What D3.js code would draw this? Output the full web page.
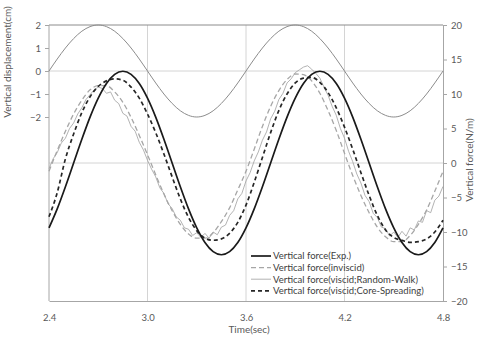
<!DOCTYPE html>
<html>
<head>
<meta charset="utf-8">
<script src="https://cdn.jsdelivr.net/npm/d3@7"></script>
<style>
  body { margin: 0; background: #fff; }
  text { font-family: Lato, "Open Sans", sans-serif; }
</style>
</head>
<body>
<script>
var width = 477, height = 338;

// time axis
var t0 = 2.4, dtSmooth = 0.05, dtNoisy = 0.025;
var xTicks = [2.4, 3.0, 3.6, 4.2, 4.8];
var leftTicks = [2, 1, 0, -1, -2];
var rightTicks = [20, 15, 10, 5, 0, -5, -10, -15, -20];

// vertical displacement (cm), every 0.05 s
var displacement = [0, 0.52, 1.0, 1.41, 1.73, 1.93, 2.0, 1.93, 1.73, 1.41, 1.0, 0.52, 0,
    -0.52, -1.0, -1.41, -1.73, -1.93, -2.0, -1.93, -1.73, -1.41, -1.0, -0.52, 0,
    0.52, 1.0, 1.41, 1.73, 1.93, 2.0, 1.93, 1.73, 1.41, 1.0, 0.52, 0,
    -0.52, -1.0, -1.41, -1.73, -1.93, -2.0, -1.93, -1.73, -1.41, -1.0, -0.52, 0];

// vertical force (N/m), every 0.05 s
var forceExp = [-9.4, -6.65, -3.44, 0, 3.44, 6.65, 9.4, 11.52, 12.85, 13.3, 12.85, 11.52, 9.4,
    6.65, 3.44, 0, -3.44, -6.65, -9.4, -11.52, -12.85, -13.3, -12.85, -11.52, -9.4,
    -6.65, -3.44, 0, 3.44, 6.65, 9.4, 11.52, 12.85, 13.3, 12.85, 11.52, 9.4,
    6.65, 3.44, 0, -3.44, -6.65, -9.4, -11.52, -12.85, -13.3, -12.85, -11.52, -9.4];

var forceInviscid = [-1.2, 1.8, 4.6, 7.1, 9.1, 10.6, 11.2, 11.2, 10.3, 8.8, 6.6, 4.0, 1.2,
    -1.7, -4.5, -6.9, -8.9, -10.3, -10.9, -10.9, -10.1, -8.5, -6.5, -3.9, -1.2,
    2.0, 5.3, 8.2, 10.5, 12.1, 12.9, 12.8, 11.9, 10.1, 7.6, 4.7, 1.4,
    -1.8, -4.7, -7.2, -9.3, -10.7, -11.4, -11.4, -10.5, -8.9, -6.8, -4.1, -1.2];

var forceCore = [-7.8, -4.3, 0.6, 4.2, 7.3, 9.6, 11.1, 11.9, 12.2, 12.0, 11.0, 9.4, 7.1,
    4.4, 1.3, -2.0, -5.2, -7.9, -9.8, -10.9, -11.2, -11.0, -10.2, -8.6, -6.1,
    -2.8, 0.8, 4.4, 7.6, 10.0, 11.6, 12.3, 12.4, 11.7, 10.2, 8.0, 5.2,
    2.0, -1.4, -4.7, -7.6, -9.7, -10.8, -11.2, -11.5, -11.4, -11.0, -10.0, -8.3];

// random-walk result is noisy, every 0.025 s
var forceRandom = [-0.8, 0.6, 1.5, 2.9, 3.6, 5.0, 5.8, 7.1, 8.0, 9.2, 9.9, 10.6, 11.0, 10.8,
    10.1, 10.3, 9.1, 8.6, 7.2, 6.8, 5.3, 4.6, 3.0, 1.9, 0.4, -0.9, -2.0, -3.6, -4.4, -5.9,
    -6.6, -7.8, -8.3, -9.4, -9.6, -10.5, -10.1, -10.8, -10.2, -10.9, -10.0, -10.4, -9.3,
    -9.0, -7.6, -6.9, -5.2, -4.4, -2.6, -1.4, 0.3, 1.6, 3.3, 4.5, 6.4, 7.5, 9.2, 10.1,
    11.6, 12.2, 13.1, 13.5, 13.9, 14.1, 13.6, 13.0, 12.3, 11.0, 9.8, 8.2, 6.9, 5.0, 3.6,
    1.7, 0.2, -1.6, -2.9, -4.7, -5.6, -7.3, -7.9, -9.3, -9.5, -10.6, -10.0, -10.8, -9.9,
    -10.6, -9.4, -9.7, -8.4, -8.6, -6.9, -7.2, -5.4, -4.8, -3.4];

var legendLabels = ['Vertical force(Exp.)', 'Vertical force(inviscid)',
    'Vertical force(viscid;Random-Walk)', 'Vertical force(viscid;Core-Spreading)'];

var plotLeft = 49, plotRight = 443, plotTop = 25, plotBottom = 301;

var x = d3.scaleLinear().domain([2.4, 4.8]).range([plotLeft, plotRight]);
var yL = d3.scaleLinear().domain([-10, 2]).range([plotBottom, plotTop]);
var yR = d3.scaleLinear().domain([-20, 20]).range([plotBottom, plotTop]);

var svg = d3.select('body').append('svg')
    .attr('width', width)
    .attr('height', height);

// grid
var grid = svg.append('g');
grid.selectAll('line.vg')
    .data(xTicks.slice(1, -1))
    .enter().append('line')
    .attr('x1', d => x(d)).attr('x2', d => x(d))
    .attr('y1', plotTop).attr('y2', plotBottom)
    .attr('stroke', '#d4d4d4').attr('stroke-width', 1);
grid.append('line')
    .attr('x1', plotLeft).attr('x2', plotRight)
    .attr('y1', yL(0)).attr('y2', yL(0))
    .attr('stroke', '#d4d4d4');
grid.append('line')
    .attr('x1', plotLeft).attr('x2', plotRight)
    .attr('y1', yR(0)).attr('y2', yR(0))
    .attr('stroke', '#d4d4d4');
grid.append('line')
    .attr('x1', plotLeft).attr('x2', plotRight)
    .attr('y1', plotTop).attr('y2', plotTop)
    .attr('stroke', '#8c8c8c');

// axes
var axL = svg.append('g')
    .attr('transform', 'translate(' + plotLeft + ',0)')
    .call(d3.axisLeft(yL).tickValues(leftTicks).tickSize(4).tickPadding(4).tickFormat(d3.format('d')));
axL.select('.domain').attr('d', 'M0,' + plotTop + 'V' + plotBottom);

var axR = svg.append('g')
    .attr('transform', 'translate(' + plotRight + ',0)')
    .call(d3.axisRight(yR).tickValues(rightTicks).tickSize(4).tickPadding(4).tickFormat(d3.format('d')));

var axB = svg.append('g')
    .attr('transform', 'translate(0,' + plotBottom + ')')
    .call(d3.axisBottom(x).tickValues(xTicks).tickSize(0).tickPadding(13).tickFormat(d3.format('.1f')));

svg.selectAll('.domain').attr('stroke', '#a6a6a6');
svg.selectAll('.tick line').attr('stroke', '#a6a6a6');
svg.selectAll('.tick text')
    .attr('fill', '#595959')
    .style('font-family', 'Lato, sans-serif')
    .style('font-size', '9.5px');

// axis titles
svg.append('text')
    .attr('transform', 'translate(11,62) rotate(-90)')
    .attr('text-anchor', 'middle')
    .attr('fill', '#595959')
    .style('font-size', '10px')
    .text('Vertical displacement(cm)');
svg.append('text')
    .attr('transform', 'translate(473,160) rotate(-90)')
    .attr('text-anchor', 'middle')
    .attr('fill', '#595959')
    .style('font-size', '10px')
    .text('Vertical force(N/m)');
svg.append('text')
    .attr('x', 249).attr('y', 333)
    .attr('text-anchor', 'middle')
    .attr('fill', '#595959')
    .style('font-size', '10px')
    .text('Time(sec)');

// series
function pts(arr, dt) {
    return arr.map((v, i) => [t0 + i * dt, v]);
}
var lineL = d3.line().x(d => x(d[0])).y(d => yL(d[1])).curve(d3.curveMonotoneX);
var lineR = d3.line().x(d => x(d[0])).y(d => yR(d[1])).curve(d3.curveMonotoneX);
var lineRaw = d3.line().x(d => x(d[0])).y(d => yR(d[1]));

var plot = svg.append('g');
plot.append('path')
    .attr('d', lineL(pts(displacement, dtSmooth)))
    .attr('fill', 'none').attr('stroke', '#8c8c8c').attr('stroke-width', 1);

var styles = [
    {data: pts(forceRandom, dtNoisy), gen: lineRaw, stroke: '#a0a0a0', w: 0.8, dash: null},
    {data: pts(forceInviscid, dtSmooth), gen: lineR, stroke: '#a6a6a6', w: 1.3, dash: '5,3'},
    {data: pts(forceCore, dtSmooth), gen: lineR, stroke: '#262626', w: 1.7, dash: '4,3'},
    {data: pts(forceExp, dtSmooth), gen: lineR, stroke: '#1a1a1a', w: 1.7, dash: null}
];
styles.forEach(function(s) {
    plot.append('path')
        .attr('d', s.gen(s.data))
        .attr('fill', 'none')
        .attr('stroke', s.stroke)
        .attr('stroke-width', s.w)
        .attr('stroke-dasharray', s.dash);
});

// legend (order: exp, inviscid, random, core)
var legendStyle = [styles[3], styles[1], styles[0], styles[2]];
var lg = svg.append('g');
var row = lg.selectAll('g')
    .data(legendLabels)
    .enter().append('g')
    .attr('transform', (d, i) => 'translate(251,' + (256 + i * 11.6) + ')');
row.append('line')
    .attr('x1', 0).attr('x2', 20)
    .attr('stroke', (d, i) => legendStyle[i].stroke)
    .attr('stroke-width', (d, i) => legendStyle[i].w)
    .attr('stroke-dasharray', (d, i) => legendStyle[i].dash);
row.append('text')
    .attr('x', 22).attr('dy', '0.35em')
    .attr('fill', '#404040')
    .style('font-size', '9.5px')
    .text(d => d);
</script>
</body>
</html>
